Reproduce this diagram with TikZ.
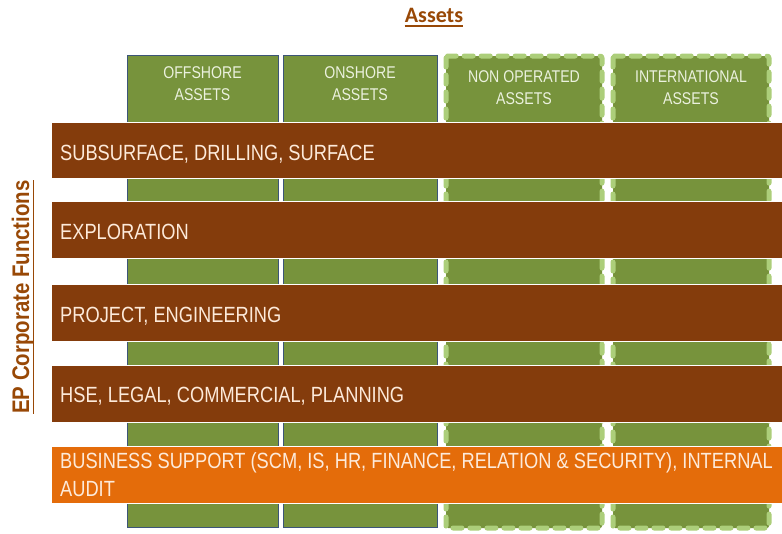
\documentclass[tikz,border=0pt]{standalone}
\usepackage{fontspec}
\setmainfont{Liberation Sans}
\newfontfamily\narrowfont[FakeStretch=0.83]{Liberation Sans}
\newfontfamily\narrowboldfont[FakeStretch=0.85]{Liberation Sans}
\newfontfamily\titlefont{Carlito}
\definecolor{bandbrown}{RGB}{132,60,12}
\definecolor{bandorange}{RGB}{228,108,10}
\definecolor{colgreen}{RGB}{119,147,60}
\definecolor{dashgreen}{RGB}{172,206,122}
\definecolor{coledge}{RGB}{60,85,120}
\definecolor{bandtext}{RGB}{253,234,218}
\definecolor{coltext}{RGB}{235,241,222}
\definecolor{headbrown}{RGB}{152,72,6}
\tikzset{
  opcol/.style={fill=colgreen, draw=coledge, line width=0.8pt},
  nopcol/.style={fill=colgreen, draw=dashgreen, line width=5pt, dash pattern=on 9pt off 8pt, line cap=round, line join=round, rounded corners=2pt},
  band/.style={fill=bandbrown, draw=white, line width=0.8pt},
  bandlight/.style={fill=bandorange, draw=white, line width=0.8pt},
  bandlabel/.style={anchor=base west, inner sep=0pt, text=bandtext, font=\narrowfont\fontsize{22}{28}\selectfont},
  collabel/.style={anchor=center, inner sep=0pt, align=center, text=coltext, font=\narrowfont\fontsize{17}{22.5}\selectfont},
  heading/.style={inner sep=0pt, text=headbrown}
}
\begin{document}
\begin{tikzpicture}[x=1pt,y=-1pt]
\useasboundingbox (0,0) rectangle (782,533);
% columns
\path[opcol] (127,55) rectangle (278,527);
\path[opcol] (283,55) rectangle (437,527);
\path[nopcol] (446,56) rectangle (602,528);
\path[nopcol] (613,56) rectangle (769,528);
\node[collabel] (c1) at (202.5,83.5) {OFFSHORE\\ASSETS};
\node[collabel] (c2) at (360,83.5) {ONSHORE\\ASSETS};
\node[collabel] (c3) at (524,87.5) {NON OPERATED\\ASSETS};
\node[collabel] (c4) at (691,87.5) {INTERNATIONAL\\ASSETS};
% bands
\path[band] (51.5,122) rectangle (784,178);
\path[band] (51.5,201) rectangle (784,258);
\path[band] (51.5,284) rectangle (784,341);
\path[band] (51.5,365) rectangle (784,422);
\path[bandlight] (51.5,446) rectangle (784,503);
\node[bandlabel] (b1) at (60,160) {SUBSURFACE, DRILLING, SURFACE};
\node[bandlabel] (b2) at (60,239) {EXPLORATION};
\node[bandlabel] (b3) at (60,322) {PROJECT, ENGINEERING};
\node[bandlabel] (b4) at (60,402) {HSE, LEGAL, COMMERCIAL, PLANNING};
\node[bandlabel, anchor=center, align=left] (b5) at (60,475) [anchor=west] {BUSINESS SUPPORT (SCM, IS, HR, FINANCE, RELATION \& SECURITY), INTERNAL\\AUDIT};
% headings
\node[heading, anchor=base, font=\titlefont\bfseries\fontsize{22}{26}\selectfont] (title) at (434,22) {Assets};
\draw[headbrown, line width=1.6pt] ([yshift=-4pt]title.base west) -- ([yshift=-4pt]title.base east);
\node[heading, anchor=base, rotate=90, font=\narrowboldfont\bfseries\fontsize{24}{28}\selectfont] (side) at (29,297) {EP Corporate Functions};
\draw[headbrown, line width=1.6pt] ([xshift=4.5pt]side.base west) -- ([xshift=4.5pt]side.base east);
\end{tikzpicture}
\end{document}
